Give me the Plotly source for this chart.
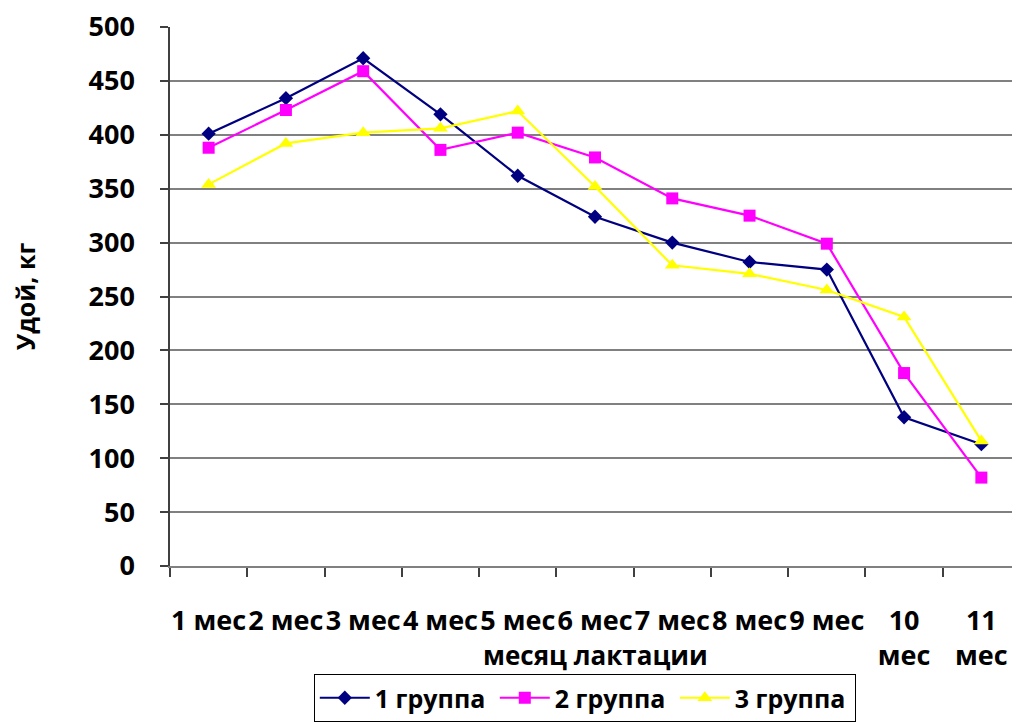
import plotly.graph_objects as go

months = ["1 мес", "2 мес", "3 мес", "4 мес", "5 мес", "6 мес", "7 мес", "8 мес", "9 мес", "10<br>мес", "11<br>мес"]
group1 = [401, 434, 471, 419, 362, 324, 300, 282, 275, 138, 113]
group2 = [388, 423, 459, 386, 402, 379, 341, 325, 299, 179, 82]
group3 = [354, 392, 402, 406, 422, 352, 279, 271, 256, 231, 116]
names = ["1 группа", "2 группа", "3 группа"]
colors = ["#000080", "#FF00FF", "#FFFF00"]
symbols = ["diamond", "square", "triangle-up"]
sizes = [11, 12, 13]
x_title = "месяц лактации"
y_title = "Удой, кг"

FONT = "Open Sans"
fig = go.Figure()
for vals, nm, c, s, sz in zip([group1, group2, group3], names, colors, symbols, sizes):
    fig.add_trace(go.Scatter(
        x=months, y=vals, name=nm, mode="lines+markers",
        line=dict(color=c, width=2.2),
        marker=dict(symbol=s, size=sz, color=c),
    ))

fig.add_annotation(
    text=x_title, xref="paper", yref="paper", x=0.5, y=-0.166,
    xanchor="center", yanchor="middle", showarrow=False,
    font=dict(family=FONT, size=26, color="black", weight="bold"),
)

fig.update_layout(
    width=1012, height=714,
    margin=dict(l=162, r=0, t=19, b=155),
    paper_bgcolor="white", plot_bgcolor="white",
    font=dict(family=FONT, size=26, color="black"),
    showlegend=True,
    legend=dict(
        orientation="h", x=0.488, xanchor="center", y=-0.201, yanchor="top",
        bordercolor="black", borderwidth=1, bgcolor="white",
        font=dict(family=FONT, size=25, color="black", weight="bold"),
        itemwidth=50, entrywidth=115, tracegroupgap=0,
    ),
    xaxis=dict(
        type="category", range=[-0.5, 10.5], tickson="boundaries",
        ticks="outside", ticklen=9, tickcolor="#404040", tickwidth=1.5,
        showline=True, linecolor="#808080", linewidth=1.5,
        showgrid=False, zeroline=False, automargin=False,
        tickangle=0,
        tickfont=dict(family=FONT, size=27, color="black", weight="bold"),
        ticklabelstandoff=30,
    ),
    yaxis=dict(
        range=[0, 500], dtick=50, tick0=0,
        ticks="outside", ticklen=8, tickcolor="#404040", tickwidth=1.5,
        showline=True, linecolor="#404040", linewidth=1.5,
        showgrid=True, gridcolor="#808080", gridwidth=1.5,
        zeroline=False, automargin=False, ticklabeloverflow="allow",
        tickfont=dict(family=FONT, size=27, color="black", weight="bold"),
        ticklabelstandoff=20,
        title=dict(text=y_title, standoff=68,
                   font=dict(family=FONT, size=25, color="black", weight="bold")),
    ),
)

fig.write_html("out.html")
